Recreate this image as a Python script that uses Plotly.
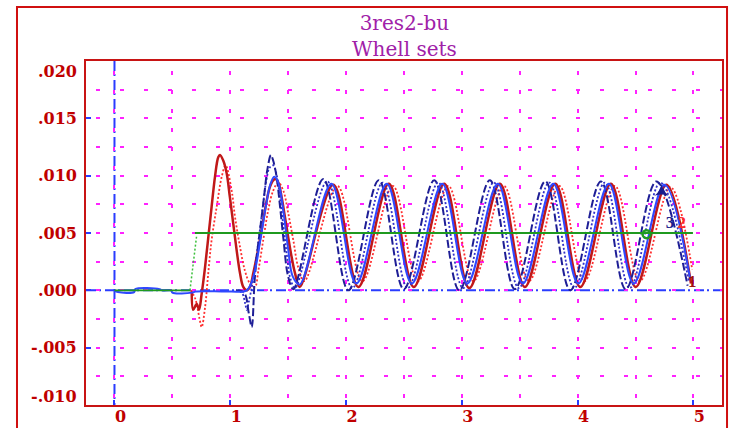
import plotly.graph_objects as go

# ---------------- text / ticks ----------------
title_lines = ["3res2-bu", "Whell sets"]
x_tick_vals = [0, 1, 2, 3, 4, 5]
x_tick_text = ["0", "1", "2", "3", "4", "5"]
y_tick_vals = [-0.010, -0.005, 0.000, 0.005, 0.010, 0.015, 0.020]
y_tick_text = ["-.010", "-.005", ".000", ".005", ".010", ".015", ".020"]
y_label_shift = [9, 0, 0, 0, 0, 0, -10]   # end labels sit inside the frame

# ---------------- setpoint (green) ----------------
set_x = [0.0, 0.652, None, 0.695, 4.996]
set_y = [0.0, 0.0, None, 0.005, 0.005]
step_x = [0.652, 0.710]
step_y = [0.0, 0.0048]

# ---------------- blue dashed (navy) ----------------
a_x = [1.05, 1.12, 1.16, 1.185, 1.21, 1.235, 1.26, 1.29, 1.32, 1.351, 1.371, 1.40, 1.43, 1.46, 1.50, 1.545,
       1.804, 2.020, 2.283, 2.499, 2.762, 2.978, 3.242, 3.458, 3.721, 3.937, 4.201, 4.416, 4.680, 4.950]
a_y = [0.0, -0.0002, -0.0020, -0.0032, 0.0008, 0.0035, 0.0055, 0.0080, 0.0105, 0.0118, 0.0113, 0.0099, 0.0073, 0.0044, 0.0012, 0.0001,
       0.0097, 0.0000, 0.0096, 0.0001, 0.0096, 0.0000, 0.0096, 0.0001, 0.0095, 0.0000, 0.0095, 0.0001, 0.0095, 0.0004]

# ---------------- blue dotted ----------------
b_x = [1.05, 1.10, 1.13, 1.142, 1.16, 1.19, 1.22, 1.25, 1.28, 1.31, 1.34, 1.371, 1.40, 1.43, 1.46, 1.49, 1.52, 1.56,
       1.838, 2.054, 2.317, 2.533, 2.796, 3.012, 3.276, 3.492, 3.755, 3.971, 4.235, 4.450, 4.714, 4.960]
b_y = [0.0, -0.0002, -0.0012, -0.0017, -0.0010, 0.0005, 0.0025, 0.0048, 0.0072, 0.0095, 0.0107, 0.0109, 0.0101, 0.0080, 0.0055, 0.0030, 0.0010, 0.0002,
       0.0095, 0.0002, 0.0094, 0.0002, 0.0094, 0.0002, 0.0094, 0.0002, 0.0094, 0.0002, 0.0094, 0.0002, 0.0094, 0.0008]

# ---------------- blue solid ----------------
c_x = [0.0, 0.03, 0.17, 0.18, 0.39, 0.41, 0.49, 0.50, 0.67, 0.70, 1.00, 1.142, 1.20, 1.26, 1.31, 1.345, 1.380, 1.415, 1.46, 1.50, 1.54, 1.60,
       1.873, 2.089, 2.352, 2.568, 2.831, 3.047, 3.311, 3.527, 3.790, 4.006, 4.270, 4.485, 4.749, 4.970]
c_y = [0.0, -0.00015, -0.00015, 0.0001, 0.0001, 0.0, 0.0, -0.0002, -0.0002, -0.0001, -0.0001, 0.0, 0.0012, 0.0044, 0.0075, 0.0092, 0.0099, 0.0094, 0.0068, 0.0036, 0.0012, 0.0005,
       0.0093, 0.0006, 0.0093, 0.0006, 0.0093, 0.0006, 0.0093, 0.0006, 0.0093, 0.0006, 0.0093, 0.0006, 0.0092, 0.0011]

# ---------------- red solid (dark red) ----------------
d_x = [0.667, 0.680, 0.710, 0.730, 0.753, 0.782, 0.810, 0.839, 0.868, 0.896, 0.911, 0.940, 0.969, 0.997, 1.026, 1.055, 1.084, 1.112,
       1.142, 1.170, 1.199, 1.228, 1.256, 1.285, 1.314, 1.342, 1.371, 1.392, 1.415, 1.444, 1.472, 1.501, 1.530, 1.559, 1.600,
       1.890, 2.106, 2.369, 2.585, 2.848, 3.064, 3.328, 3.544, 3.807, 4.023, 4.287, 4.502, 4.766, 4.979]
d_y = [-0.0001, -0.0017, -0.0012, -0.0017, -0.0003, 0.0020, 0.0046, 0.0073, 0.0099, 0.0116, 0.0118, 0.0113, 0.0102, 0.0081, 0.0058, 0.0035, 0.0015, 0.0003,
       0.0000, 0.0003, 0.0015, 0.0029, 0.0044, 0.0061, 0.0078, 0.0090, 0.0096, 0.0097, 0.0094, 0.0081, 0.0064, 0.0046, 0.0029, 0.0015, 0.0003,
       0.0092, 0.0003, 0.0093, 0.0003, 0.0093, 0.0002, 0.0093, 0.0003, 0.0093, 0.0003, 0.0093, 0.0003, 0.0092, 0.0006]

# ---------------- red dotted ----------------
e_x = [0.660, 0.700, 0.735, 0.753, 0.782, 0.810, 0.839, 0.883, 0.926, 0.960, 1.012, 1.041, 1.084, 1.127, 1.170, 1.213,
       1.242, 1.285, 1.328, 1.371, 1.415, 1.458, 1.501, 1.544, 1.587, 1.640,
       1.925, 2.141, 2.404, 2.620, 2.883, 3.099, 3.363, 3.579, 3.842, 4.058, 4.322, 4.537, 4.801, 4.990]
e_y = [0.0, -0.0008, -0.0025, -0.0032, -0.0015, 0.0015, 0.0044, 0.0073, 0.0099, 0.0109, 0.0087, 0.0064, 0.0038, 0.0017, 0.0006, 0.0003,
       0.0017, 0.0044, 0.0070, 0.0087, 0.0094, 0.0087, 0.0067, 0.0044, 0.0020, 0.0008,
       0.0091, 0.0008, 0.0091, 0.0008, 0.0091, 0.0008, 0.0091, 0.0008, 0.0091, 0.0008, 0.0091, 0.0008, 0.0090, 0.0018]

# ---------------- curve labels / markers ----------------
curve_labels = ["3", "2", "1"]
curve_label_x = [4.798, 4.899, 4.990]
curve_label_y = [0.0058, 0.0058, 0.00065]
curve_label_col = ["#1c1c8c", "#ff2a2a", "#a01010"]
green_mark_x = [4.596]
green_mark_y = [0.0049]
blue_mark_x = [4.725]
blue_mark_y = [0.0086]

RED = "#c81414"
BLUE = "#2a3cff"
MAG = "#ff22ff"
GREEN = "#1f9a1f"

fig = go.Figure()
fig.add_trace(go.Scatter(x=e_x, y=e_y, mode="lines", line=dict(color="#ff3030", width=1.8, dash="2px,2px", shape="spline")))
fig.add_trace(go.Scatter(x=d_x, y=d_y, mode="lines", line=dict(color="#c01818", width=2.5, shape="spline")))
fig.add_trace(go.Scatter(x=b_x, y=b_y, mode="lines", line=dict(color="#3030c8", width=1.8, dash="2px,2px", shape="spline")))
fig.add_trace(go.Scatter(x=a_x, y=a_y, mode="lines", line=dict(color="#1e1e96", width=2, dash="8px,3px", shape="spline")))
fig.add_trace(go.Scatter(x=c_x, y=c_y, mode="lines", line=dict(color="#2f48ff", width=2, shape="spline")))
fig.add_trace(go.Scatter(x=step_x, y=step_y, mode="lines", line=dict(color="#3cc03c", width=1.5, dash="2px,2px")))
fig.add_trace(go.Scatter(x=set_x, y=set_y, mode="lines", line=dict(color=GREEN, width=1.8)))
fig.add_trace(go.Scatter(x=green_mark_x, y=green_mark_y, mode="markers",
                         marker=dict(symbol="circle-open", size=8, color=GREEN, line=dict(width=2.5, color=GREEN))))
fig.add_trace(go.Scatter(x=blue_mark_x, y=blue_mark_y, mode="markers",
                         marker=dict(symbol="star-triangle-up", size=10, color="#1c1c8c")))
fig.add_trace(go.Scatter(x=curve_label_x, y=curve_label_y, mode="text", text=curve_labels,
                         textfont=dict(family="Liberation Serif", size=17, color=curve_label_col, weight="bold")))

tickfont = dict(family="DejaVu Serif", size=16, color="#c00000", weight="bold")

fig.update_layout(
    width=729, height=428,
    margin=dict(l=86, r=7, t=61, b=23, autoexpand=False),
    paper_bgcolor="white", plot_bgcolor="white",
    showlegend=False,
    xaxis=dict(range=[-0.246, 5.247], tickvals=x_tick_vals, ticktext=x_tick_text,
               ticks="inside", ticklen=5, tickwidth=2, tickcolor=BLUE,
               showline=True, mirror=True, linecolor=RED, linewidth=2,
               showgrid=True, gridcolor=MAG, gridwidth=1.5, griddash="0px,10px,4px,5px",
               minor=dict(dtick=0.5, tick0=0, showgrid=True, gridcolor=MAG, gridwidth=1.5, griddash="0px,10px,4px,5px"),
               zeroline=False, tickfont=tickfont, ticklabelshift=6, ticklabelstandoff=-4, automargin=False),
    yaxis=dict(range=[-0.010, 0.020], tickvals=y_tick_vals, ticktext=[""] * len(y_tick_vals),
               ticks="inside", ticklen=5, tickwidth=2, tickcolor=BLUE,
               showline=True, mirror=True, linecolor=RED, linewidth=2,
               showgrid=True, gridcolor=MAG, gridwidth=1.5, griddash="0px,10px,4px,10px",
               minor=dict(dtick=0.0025, tick0=0, showgrid=True, gridcolor=MAG, gridwidth=1.5, griddash="0px,10px,4px,10px"),
               zeroline=False, automargin=False),
)

for v, t, s in zip(y_tick_vals, y_tick_text, y_label_shift):
    fig.add_annotation(x=0, xref="paper", y=v, yref="y", text=t, showarrow=False,
                       xanchor="right", yanchor="middle", xshift=-7, yshift=s, font=tickfont)

fig.add_annotation(x=0.5, xref="paper", y=1.0, yref="paper", text="<br>".join(title_lines), showarrow=False,
                   xanchor="center", yanchor="bottom", yshift=-2, align="center",
                   font=dict(family="DejaVu Serif", size=20, color="#a020a8"))

# zero reference lines (blue dash-dot)
fig.add_shape(type="line", xref="x", yref="paper", x0=0, x1=0, y0=1, y1=0,
              line=dict(color=BLUE, width=2, dash="10px,3px,2px,4px"), layer="between")
fig.add_shape(type="line", xref="paper", yref="y", x0=0, x1=1, y0=0, y1=0,
              line=dict(color=BLUE, width=2, dash="10px,3px,2px,4px"), layer="between")
# outer frame
fig.add_shape(type="rect", xref="paper", yref="paper", x0=-0.1085, x1=1.0079, y0=-0.09, y1=1.157,
              line=dict(color="#d01010", width=2), fillcolor="rgba(0,0,0,0)")

fig.write_html("out.html", config={"displayModeBar": False},
               post_script="document.body.style.margin='0';document.body.style.overflow='hidden';")
